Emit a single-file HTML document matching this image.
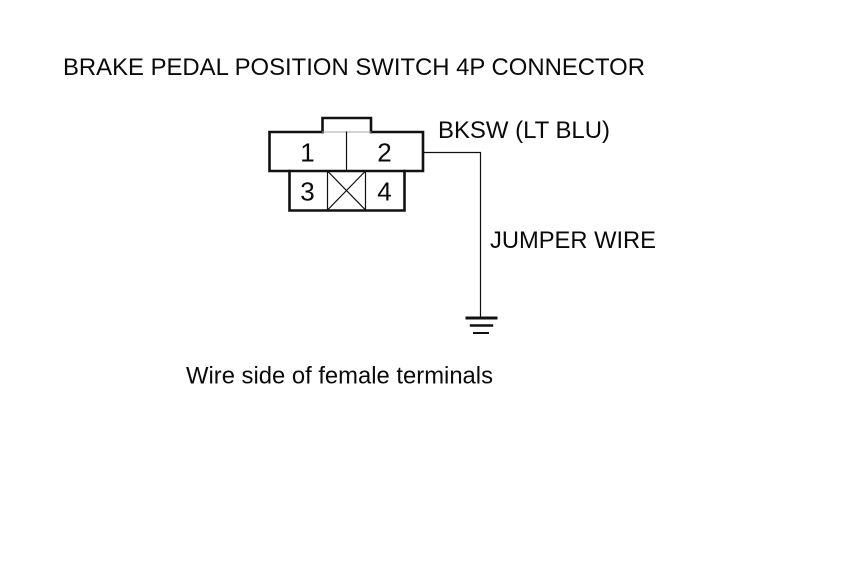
<!DOCTYPE html>
<html>
<head>
<meta charset="utf-8">
<style>
html,body{margin:0;padding:0;background:#fff;width:860px;height:580px;overflow:hidden}
svg{display:block}
text{font-family:"Liberation Sans",Arial,sans-serif;fill:#0a0a0a}
</style>
</head>
<body>
<svg width="860" height="580" viewBox="0 0 860 580" xmlns="http://www.w3.org/2000/svg">
<rect width="860" height="580" fill="#fff"/>
<g fill="none" stroke="#111" stroke-linecap="square">
  <path d="M322.5 132V118H371V132" stroke-width="2.6"/>
  <path d="M322.5 132H269.5V171H423V132H371" stroke-width="2.6"/>
  <path d="M322.5 132H371" stroke-width="1" stroke="#aaa"/>
  <path d="M289.5 171V210.5H404.5V171" stroke-width="2.6"/>
  <path d="M346.5 132V171" stroke-width="1.2"/>
  <path d="M327.5 171V210M365.5 171V210M327.5 210L365.5 171M327.5 171L365.5 210" stroke-width="1.2"/>
  <path d="M423 152.5H480.5V318" stroke-width="1.2"/>
  <path d="M467 318H496" stroke-width="3"/>
  <path d="M471 325.5H492" stroke-width="2.4"/>
  <path d="M474 333H488" stroke-width="2"/>
</g>
<text x="63" y="75" font-size="24" textLength="582" lengthAdjust="spacingAndGlyphs">BRAKE PEDAL POSITION SWITCH 4P CONNECTOR</text>
<text x="438" y="138" font-size="24" textLength="172" lengthAdjust="spacingAndGlyphs">BKSW (LT BLU)</text>
<text x="490" y="248" font-size="24" textLength="166" lengthAdjust="spacingAndGlyphs">JUMPER WIRE</text>
<text x="186" y="383.5" font-size="24" textLength="307" lengthAdjust="spacingAndGlyphs">Wire side of female terminals</text>
<text x="307.5" y="161.5" font-size="26" text-anchor="middle">1</text>
<text x="384.5" y="161.5" font-size="26" text-anchor="middle">2</text>
<text x="307.5" y="200.5" font-size="26" text-anchor="middle">3</text>
<text x="384.5" y="200.5" font-size="26" text-anchor="middle">4</text>
</svg>
</body>
</html>
